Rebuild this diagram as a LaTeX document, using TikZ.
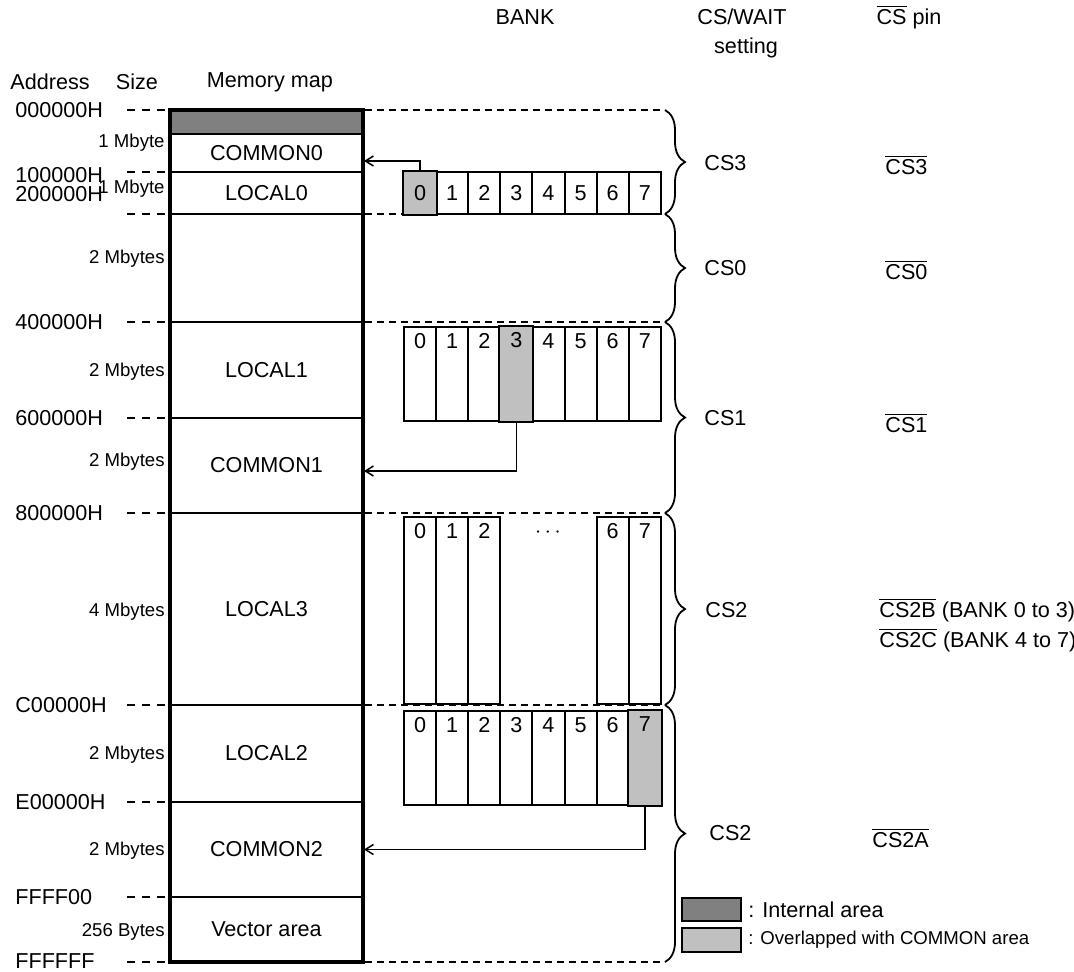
\documentclass[tikz,border=0pt]{standalone}
\usepackage{fontspec}
\setmainfont{Liberation Sans}
\usetikzlibrary{positioning, arrows.meta, fit, decorations.pathreplacing}
\definecolor{internalgray}{RGB}{128,128,128}
\definecolor{overlapgray}{RGB}{192,192,192}
\newcommand{\mapfont}{\fontsize{10.8}{12.5}\selectfont}
\newcommand{\sizefont}{\fontsize{9.3}{11}\selectfont}
\newcommand{\pinbar}[1]{$\overline{\mbox{#1}}$}

\begin{document}
\begin{tikzpicture}[
  x=0.5pt, y=-0.5pt,
  every node/.style={font=\mapfont, inner sep=0pt},
  every label/.style={font=\mapfont, inner sep=0pt},
  region/.style={draw, line width=1pt, inner sep=0pt, fit={#1}},
  bankcell/.style={draw, line width=1pt, fill=white, inner sep=0pt},
  numtop/.style={anchor=north, inner sep=0pt, yshift=-3.5pt},
  addr/.style={anchor=west},
  size/.style={anchor=east, font=\sizefont},
  addrdash/.style={line width=0.7pt, dash pattern=on 4pt off 3.5pt},
  areadash/.style={line width=0.7pt, dash pattern=on 3.5pt off 2.5pt},
  arrow/.style={-{Straight Barb[length=4pt, width=5pt]}, line width=0.75pt},
  csbrace/.style={decorate, decoration={brace, amplitude=10pt}, line width=0.9pt},
  keybox/.style={draw, line width=1pt, inner sep=0pt, fill=#1}
]
\useasboundingbox (0,0) rectangle (1074,971);

% ── Headers ───────────────────────────────────────────────────────────────────
\node (hdaddr) at (50,82)  {Address};
\node (hdsize) at (137,82) {Size};
\node (hdmap)  at (270,82) {Memory map};
\node (hdbank) at (525,17) {BANK};
\node (hdcs)   at (742,17) {CS/WAIT};
\node (hdset)  at (746,48) {setting};
\node (hdpin)  at (909,17) {\pinbar{CS} pin};

% ── Address and size column ───────────────────────────────────────────────────
\foreach \txt/\y [count=\k] in {000000H/110, 100000H/175, 200000H/194,
    400000H/322, 600000H/418, 800000H/513, C00000H/705, E00000H/802,
    FFFF00/897, FFFFFF/961}
  \node[addr] (addr-\k) at (15,\y) {\txt};

\foreach \y in {110,172,214,322,418,513,705,802,897,962}
  \draw[addrdash] (127,\y) -- (165,\y);

\foreach \txt/\y [count=\k] in {1 Mbyte/143, 1 Mbyte/189, 2 Mbytes/259,
    2 Mbytes/372, 2 Mbytes/462, 4 Mbytes/612, 2 Mbytes/755,
    2 Mbytes/851, 256 Bytes/932}
  \node[size] (size-\k) at (165,\y) {\txt};

% ── Area borders on the right ─────────────────────────────────────────────────
\foreach \y in {110,214,322,513,705,962}
  \draw[areadash] (365,\y) -- (664,\y);

% ── Memory map ────────────────────────────────────────────────────────────────
\node[region={(170,110) (363,134)}, fill=internalgray] (internal) {};
\node[region={(170,134) (363,172)}, label=center:COMMON0] (common0) {};
\node[region={(170,172) (363,214)}, label=center:LOCAL0]  (local0)  {};
\node[region={(170,214) (363,322)}] (cs0area) {};
\node[region={(170,322) (363,418)}, label=center:LOCAL1]  (local1)  {};
\node[region={(170,418) (363,513)}, label=center:COMMON1] (common1) {};
\node[region={(170,513) (363,705)}, label=center:LOCAL3]  (local3)  {};
\node[region={(170,705) (363,802)}, label=center:LOCAL2]  (local2)  {};
\node[region={(170,802) (363,897)}, label=center:COMMON2] (common2) {};
\node[region={(170,897) (363,962)}, label=center:Vector area] (vector) {};
\node[draw, line width=2.2pt, inner sep=0pt, fit={(170,110) (363,962)}] (memmap) {};

% ── Banks ─────────────────────────────────────────────────────────────────────
\foreach \i in {0,...,7} {
  \pgfmathsetmacro\xa{404+32.1*\i}
  \pgfmathsetmacro\xb{\xa+32.1}
  \node[bankcell, fit={(\xa,172) (\xb,214)}, label=center:\i] (bka-\i) {};
  \node[bankcell, fit={(\xa,327) (\xb,421)}, label={[numtop]north:\i}] (bkb-\i) {};
  \node[bankcell, fit={(\xa,711) (\xb,805)}, label={[numtop]north:\i}] (bkd-\i) {};
}
\foreach \i in {0,1,2,6,7} {
  \pgfmathsetmacro\xa{404+32.1*\i}
  \pgfmathsetmacro\xb{\xa+32.1}
  \node[bankcell, fit={(\xa,517) (\xb,704)}, label={[numtop]north:\i}] (bkc-\i) {};
}
\node (bkdots) at (548,533) {$\cdots$};

% overlapped banks
\node[bankcell, fill=overlapgray, fit={(bka-0.north west) (bka-0.south east)},
      label=center:0] (ovla) {};
\node[bankcell, fill=overlapgray, fit={(bkb-3.north west) (bkb-3.south east)},
      label={[numtop]north:3}] (ovlb) {};
\node[bankcell, fill=overlapgray, fit={(bkd-7.north west) (bkd-7.south east)},
      label={[numtop]north:7}] (ovld) {};

\draw[arrow] (ovla.north) |- ([yshift=-4pt]common0.east);
\draw[arrow] (ovlb.south) |- ([yshift=-2.75pt]common1.east);
\draw[arrow] (ovld.south) |- (common2.east);

% ── CS/WAIT braces ────────────────────────────────────────────────────────────
\draw[csbrace] (665,110) -- (665,214);
\draw[csbrace] (665,214) -- (665,322);
\draw[csbrace] (665,322) -- (665,513);
\draw[csbrace] (665,513) -- (665,705);
\draw[csbrace] (665,705) -- (665,962);

\node[anchor=west] (cs3) at (704,163) {CS3};
\node[anchor=west] (cs0) at (704,268) {CS0};
\node[anchor=west] (cs1) at (704,418) {CS1};
\node[anchor=west] (cs2) at (705,610) {CS2};
\node[anchor=west] (cs2a) at (709,833) {CS2};

% ── CS pins ───────────────────────────────────────────────────────────────────
\node[anchor=west] (pin3)  at (885,165) {\pinbar{CS3}};
\node[anchor=west] (pin0)  at (885,270) {\pinbar{CS0}};
\node[anchor=west] (pin1)  at (885,423) {\pinbar{CS1}};
\node[anchor=west] (pin2b) at (879,610) {\pinbar{CS2B} (BANK 0 to 3)};
\node[anchor=west] (pin2c) at (879,640) {\pinbar{CS2C} (BANK 4 to 7)};
\node[anchor=west] (pin2a) at (872,838) {\pinbar{CS2A}};

% ── Key ───────────────────────────────────────────────────────────────────────
\node[keybox=internalgray, fit={(682,898) (741,921)}] (keyint) {};
\node[right=3pt of keyint] (keyinttxt) {: Internal area};
\node[keybox=overlapgray, fit={(682,928) (741,952)}] (keyovl) {};
\node[font=\sizefont, right=3pt of keyovl] (keyovltxt) {: Overlapped with COMMON area};

\end{tikzpicture}
\end{document}
